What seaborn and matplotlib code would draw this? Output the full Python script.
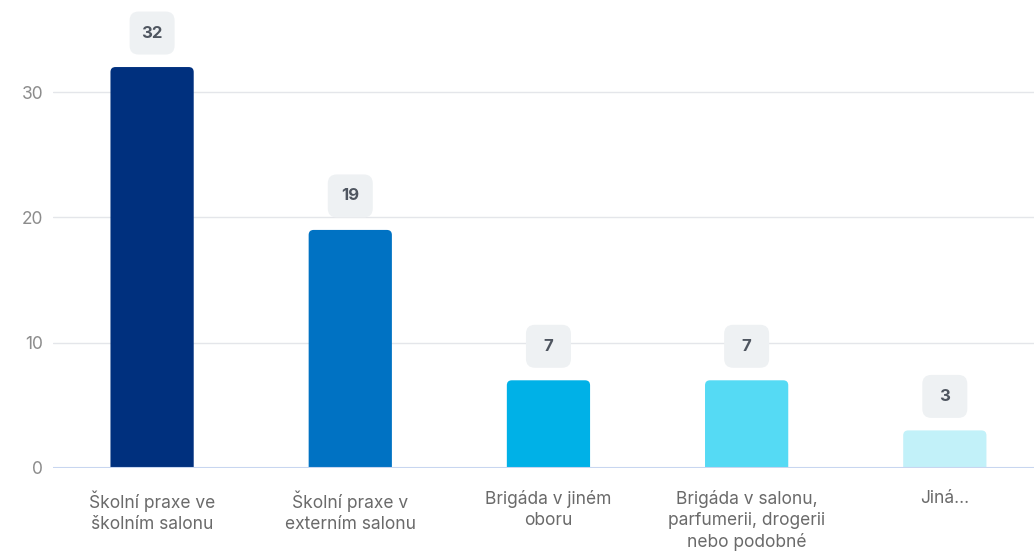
import matplotlib
matplotlib.use("Agg")
import matplotlib.pyplot as plt
import pandas as pd
import seaborn as sns
from matplotlib.patches import FancyBboxPatch
from matplotlib.transforms import IdentityTransform

categories = [
    "Školní praxe ve\nškolním salonu",
    "Školní praxe v\nexterním salonu",
    "Brigáda v jiném\noboru",
    "Brigáda v salonu,\nparfumerii, drogerii\nnebo podobné",
    "Jiná...",
]
counts = [32, 19, 7, 7, 3]
colors = ["#00307e", "#0072c3", "#00b1e7", "#55daf4", "#c2f1f9"]
yticks = [0, 10, 20, 30]

sns.set_style("white")
plt.rcParams["font.family"] = ["Inter", "DejaVu Sans"]

df = pd.DataFrame({"cat": categories, "n": counts})

fig = plt.figure(figsize=(10.34, 5.56), dpi=100)
ax = fig.add_axes([53 / 1034, 88 / 556, 1 - 53 / 1034, 468 / 556])

sns.barplot(data=df, x="cat", y="n", hue="cat", palette=colors,
            width=0.42, legend=False, ax=ax, saturation=1, zorder=3)

ax.set_xlim(-0.5, 4.45)
ax.set_ylim(0, 37.35)
ax.set_yticks(yticks)
ax.grid(axis="y", color="#e4e6ea", linewidth=1, zorder=0)
ax.axhline(0, color="#c8d6f0", linewidth=1.5, zorder=4)
for s in ax.spines.values():
    s.set_visible(False)
ax.set_xlabel("")
ax.set_ylabel("")
ax.tick_params(axis="x", length=0, pad=16, labelsize=12.5, labelcolor="#6a6a6a")
ax.tick_params(axis="y", length=0, pad=7, labelsize=12.5, labelcolor="#8c8c8c")
for lbl in ax.get_xticklabels():
    lbl.set_linespacing(1.3)

# swap bars for rounded ones; the bottom corners get clipped at the axes edge
fig.canvas.draw()
px_per_x = ax.transData.transform((1, 0))[0] - ax.transData.transform((0, 0))[0]
px_per_y = ax.transData.transform((0, 1))[1] - ax.transData.transform((0, 0))[1]
aspect = px_per_x / px_per_y
for bar in list(ax.patches):
    x, w, h = bar.get_x(), bar.get_width(), bar.get_height()
    r = 5 / px_per_x
    rounded = FancyBboxPatch((x + r, 0), w - 2 * r, h - r * aspect,
                             boxstyle=f"round,pad={r},rounding_size={r}",
                             mutation_aspect=aspect,
                             facecolor=bar.get_facecolor(), edgecolor="none",
                             zorder=3)
    ax.add_patch(rounded)
    bar.set_visible(False)

# value labels in rounded grey boxes
for i, v in enumerate(counts):
    px, py = ax.transData.transform((i, v))
    cy = py + 34
    box = FancyBboxPatch((px - 18, cy - 17), 36, 34,
                         boxstyle="round,pad=4.5,rounding_size=9",
                         facecolor="#eef1f3", edgecolor="none",
                         transform=IdentityTransform(), zorder=5)
    fig.patches.append(box)
    box.set_figure(fig)
    fig.text(px / fig.bbox.width, cy / fig.bbox.height, str(v),
             ha="center", va="center", fontsize=12, fontweight="bold",
             color="#4f5660", zorder=6)

fig.savefig("out.png", dpi=100)
